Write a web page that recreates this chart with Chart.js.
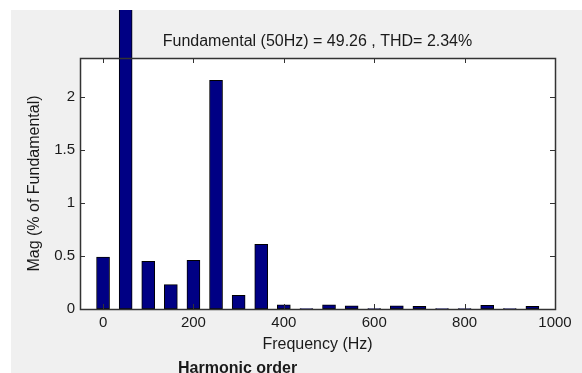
<!DOCTYPE html>
<html>
<head>
<meta charset="utf-8">
<script src="https://cdn.jsdelivr.net/npm/chart.js@4.4.0/dist/chart.umd.min.js"></script>
<style>
  html, body { margin: 0; padding: 0; background: #fff; overflow: hidden; }
  #fig { position: absolute; left: 11px; top: 10px; width: 571px; height: 363px; background: #f0f0f0; }
  #harm { position: absolute; left: 178px; top: 359px; font: bold 16px "Liberation Sans", Arial, sans-serif; color: #1a1a1a; white-space: nowrap; }
</style>
</head>
<body>
<div id="fig"><canvas id="chart" width="571" height="363"></canvas></div>
<div id="harm">Harmonic order</div>
<script>
Chart.defaults.font.family = '"Liberation Sans", Arial, sans-serif';
Chart.defaults.font.size = 15;
Chart.defaults.color = '#1a1a1a';
Chart.defaults.plugins.legend.display = false;

// harmonic frequencies (Hz) and magnitudes (% of fundamental)
const freqs = [0, 50, 100, 150, 200, 250, 300, 350, 400, 450, 500, 550, 600, 650, 700, 750, 800, 850, 900, 950];
const mags  = [0.49, 100, 0.45, 0.23, 0.46, 2.16, 0.13, 0.61, 0.04, 0.005, 0.04, 0.03, 0.005, 0.03, 0.025, 0.005, 0.005, 0.035, 0.005, 0.025];

const xTicks = [0, 200, 400, 600, 800, 1000];
const yTicks = [0, 0.5, 1, 1.5, 2];

const axisColor = '#333';

// MATLAB style box with inward ticks
const boxTicks = {
    id: 'boxTicks',
    afterDraw(chart) {
        const ctx = chart.ctx;
        const a = chart.chartArea;
        const xs = chart.scales.x, ys = chart.scales.y;
        const len = 5;
        ctx.save();
        ctx.strokeStyle = axisColor;
        ctx.lineWidth = 1;
        ctx.beginPath();
        xTicks.forEach(v => {
            const px = Math.round(xs.getPixelForValue(v)) + 0.5;
            ctx.moveTo(px, a.bottom); ctx.lineTo(px, a.bottom - len);
            ctx.moveTo(px, a.top); ctx.lineTo(px, a.top + len);
        });
        yTicks.forEach(v => {
            const py = Math.round(ys.getPixelForValue(v)) + 0.5;
            ctx.moveTo(a.left, py); ctx.lineTo(a.left + len, py);
            ctx.moveTo(a.right, py); ctx.lineTo(a.right - len, py);
        });
        ctx.stroke();
        ctx.lineWidth = 1.5;
        ctx.strokeRect(Math.round(a.left) + 0.5, Math.round(a.top) + 0.5,
                       Math.round(a.right - a.left), Math.round(a.bottom - a.top));
        ctx.restore();
    }
};

// white axes background
const axesBg = {
    id: 'axesBg',
    beforeDatasetsDraw(chart) {
        const a = chart.chartArea;
        chart.ctx.save();
        chart.ctx.fillStyle = '#fff';
        chart.ctx.fillRect(a.left, a.top, a.right - a.left, a.bottom - a.top);
        chart.ctx.restore();
    }
};

new Chart('chart', {
    type: 'bar',
    data: {
        datasets: [{
            data: freqs.map((f, i) => ({ x: f, y: mags[i] })),
            backgroundColor: '#000084',
            borderColor: '#000',
            borderWidth: 1,
            borderSkipped: false,
            barThickness: 13,
            clip: false
        }]
    },
    options: {
        responsive: false,
        animation: false,
        layout: { padding: { left: 0, right: 27, top: 0, bottom: 0 } },
        scales: {
            x: {
                type: 'linear',
                offset: false,
                min: -51,
                max: 1000,
                grid: { display: false, drawTicks: false },
                border: { display: false },
                afterBuildTicks: s => { s.ticks = xTicks.map(v => ({ value: v })); },
                afterFit: s => { s.height = 64; },
                ticks: { padding: 5, maxRotation: 0, autoSkip: false, callback: v => String(v) },
                title: { display: true, text: 'Frequency (Hz)', font: { size: 16 }, padding: { top: 0, bottom: 19 } }
            },
            y: {
                min: 0,
                max: 2.37,
                grid: { display: false, drawTicks: false },
                border: { display: false },
                afterBuildTicks: s => { s.ticks = yTicks.map(v => ({ value: v })); },
                afterFit: s => { s.width = 69; },
                ticks: { padding: 5, callback: v => String(v) },
                title: { display: true, text: 'Mag (% of Fundamental)', font: { size: 16 }, padding: { top: 14, bottom: 0 } }
            }
        },
        plugins: {
            tooltip: { enabled: false },
            title: {
                display: true,
                fullSize: false,
                text: 'Fundamental (50Hz) = 49.26 , THD= 2.34%',
                font: { size: 16, weight: 'normal' },
                padding: { top: 22, bottom: 6.8 }
            }
        }
    },
    plugins: [axesBg, boxTicks]
});
</script>
</body>
</html>
